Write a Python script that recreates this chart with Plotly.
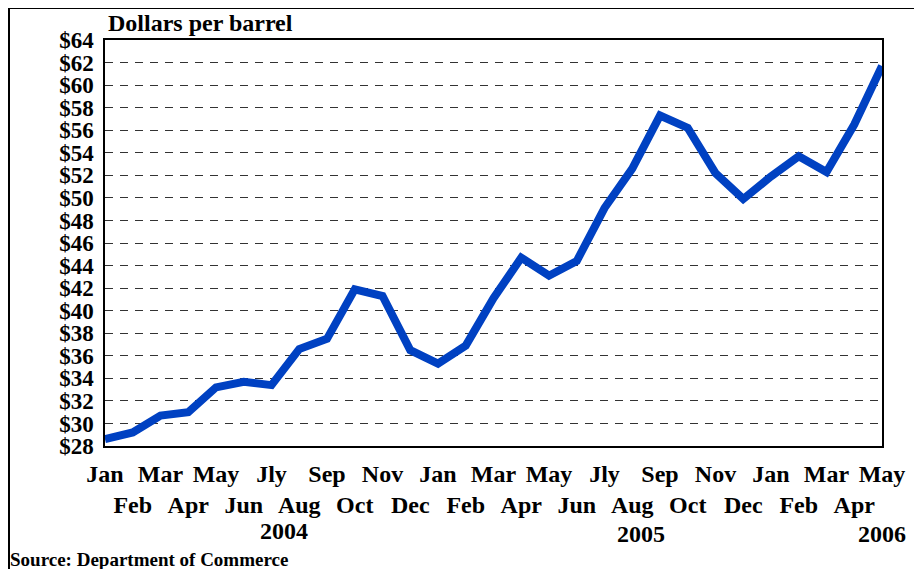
import plotly.graph_objects as go

months = ["Jan", "Feb", "Mar", "Apr", "May", "Jun", "Jly", "Aug", "Sep", "Oct", "Nov", "Dec",
          "Jan", "Feb", "Mar", "Apr", "May", "Jun", "Jly", "Aug", "Sep", "Oct", "Nov", "Dec",
          "Jan", "Feb", "Mar", "Apr", "May"]
prices = [28.6, 29.2, 30.7, 31.0, 33.2, 33.7, 33.4, 36.6, 37.5, 41.9, 41.3, 36.5,
          35.3, 36.9, 41.1, 44.7, 43.1, 44.4, 49.1, 52.6, 57.3, 56.2, 52.2, 49.9,
          51.9, 53.7, 52.3, 56.5, 61.7]
y_ticks = list(range(28, 65, 2))
y_labels = ["$%d" % v for v in y_ticks]
years = ["2004", "2005", "2006"]
year_pos = [6.45, 19.3, 28]

idx = list(range(len(months)))
tick_text = ["<b>%s</b>" % m if i % 2 == 0 else "<br><b>%s</b>" % m for i, m in enumerate(months)]

SERIF = "Liberation Serif"

# The page body adds an 8px margin, so the figure is drawn 8px smaller and
# every target screen position is shifted by that offset.
OFF = 8
FW, FH = 922 - OFF, 569 - OFF

fig = go.Figure()
fig.add_trace(go.Scatter(
    x=idx, y=prices, mode="lines",
    line=dict(color="#0041C2", width=8),
    cliponaxis=False, hoverinfo="skip", showlegend=False,
))

# plot-area geometry in screen pixels of the target
L, R, T, B = 105, 882, 40, 446
W, H = R - L, B - T
def px(x):
    return (x - L) / W
def py(y):
    return (B - y) / H

annotations = [
    dict(text="<b>Dollars per barrel</b>", x=px(106), y=py(23), xref="paper", yref="paper",
         xanchor="left", yanchor="middle", showarrow=False,
         font=dict(family=SERIF, size=24, color="black")),
    dict(text="<b>Source: Department of Commerce</b>", x=px(8), y=py(559), xref="paper", yref="paper",
         xanchor="left", yanchor="middle", showarrow=False,
         font=dict(family=SERIF, size=19, color="black")),
]
for yr, pos, yy in zip(years, year_pos, [530.5, 534, 534]):
    annotations.append(dict(text="<b>%s</b>" % yr, x=pos, y=py(yy), xref="x", yref="paper",
                            xanchor="center", yanchor="middle", showarrow=False,
                            font=dict(family=SERIF, size=24, color="black")))

shapes = [
    dict(type="line", xref="paper", yref="paper", x0=px(8), x1=px(922), y0=py(8), y1=py(8),
         line=dict(color="black", width=2)),
    dict(type="line", xref="paper", yref="paper", x0=px(9), x1=px(9), y0=py(8), y1=py(569),
         line=dict(color="black", width=2)),
]

fig.update_layout(
    width=FW, height=FH,
    margin=dict(l=L - OFF, r=922 - R, t=T - OFF, b=569 - B),
    paper_bgcolor="white", plot_bgcolor="white",
    annotations=annotations, shapes=shapes,
    xaxis=dict(
        range=[0, 28], tickmode="array", tickvals=idx, ticktext=tick_text,
        tickangle=0, automargin=False,
        showgrid=False, zeroline=False, ticks="",
        showline=True, linecolor="black", linewidth=1.5, mirror=True,
        tickfont=dict(family=SERIF, size=24, color="black"),
        ticklabelstandoff=5,
    ),
    yaxis=dict(
        range=[28, 64], tickmode="array", tickvals=y_ticks, ticktext=["<b>%s</b>" % t for t in y_labels],
        automargin=False,
        showgrid=True, gridcolor="#333333", gridwidth=1, griddash="8px,7px",
        zeroline=False, ticks="",
        showline=True, linecolor="black", linewidth=1.5, mirror=True,
        tickfont=dict(family=SERIF, size=23, color="black"),
        ticklabelstandoff=5,
    ),
)

fig.write_html("out.html")
